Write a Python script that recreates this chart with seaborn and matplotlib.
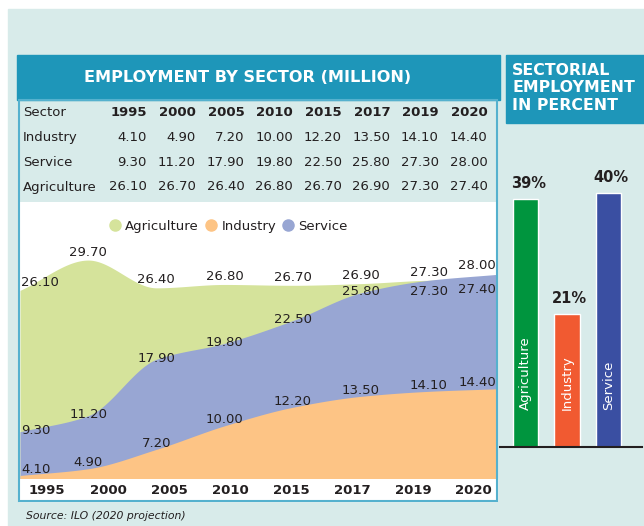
import numpy as np
import pandas as pd
import seaborn as sns
import matplotlib.pyplot as plt
from matplotlib import patches
from matplotlib.lines import Line2D

sns.set_style("white")
plt.rcParams['font.family'] = ['DejaVu Sans']

# Data
years = ['1995', '2000', '2005', '2010', '2015', '2017', '2019', '2020']
industry = [4.10, 4.90, 7.20, 10.00, 12.20, 13.50, 14.10, 14.40]
service = [9.30, 11.20, 17.90, 19.80, 22.50, 25.80, 27.30, 28.00]
agriculture = [26.10, 26.70, 26.40, 26.80, 26.70, 26.90, 27.30, 27.40]
# the area chart in the source shows 29.70 for agriculture in 2000
agriculture_area = [26.10, 29.70, 26.40, 26.80, 26.70, 26.90, 27.30, 27.40]

share_sectors = ['Agriculture', 'Industry', 'Service']
shares = [39, 21, 40]

colors = {'bg': '#D8EBEA', 'head': '#1E96B9', 'border': '#55B1CE', 'text': '#231F20',
          'agri': '#D5E39B', 'ind': '#FDC485', 'serv': '#98A6D3',
          'bar_agri': '#00953E', 'bar_ind': '#F15A31', 'bar_serv': '#3A4FA2'}

W, H = 644, 526


def fx(x):
    return x / W


def fy(y):
    return 1 - y / H


def rect(x0, y0, x1, y1):
    return [x0 / W, 1 - y1 / H, (x1 - x0) / W, (y1 - y0) / H]


def smooth(y, n=500):
    # monotone cubic through the points
    y = np.asarray(y, dtype=float)
    d = np.diff(y)
    m = np.zeros_like(y)
    m[0], m[-1] = d[0], d[-1]
    for k in range(1, len(y) - 1):
        if d[k - 1] * d[k] > 0:
            m[k] = 2 / (1 / d[k - 1] + 1 / d[k])
    xs = np.linspace(0, len(y) - 1, n)
    k = np.minimum(xs.astype(int), len(y) - 2)
    t = xs - k
    h00 = 2 * t**3 - 3 * t**2 + 1
    h10 = t**3 - 2 * t**2 + t
    h01 = -2 * t**3 + 3 * t**2
    h11 = t**3 - t**2
    return xs, h00 * y[k] + h10 * m[k] + h01 * y[k + 1] + h11 * m[k + 1]


fig = plt.figure(figsize=(W / 100, H / 100), dpi=100, facecolor='white')

# Background panels
fig.add_artist(patches.Rectangle((fx(8), 0), 1 - fx(8), fy(9), transform=fig.transFigure,
                                 color=colors['bg'], zorder=-3))
fig.add_artist(patches.Rectangle((fx(17), fy(100)), fx(500) - fx(17), fy(55) - fy(100),
                                 transform=fig.transFigure, color=colors['head'], zorder=-2))
fig.add_artist(patches.Rectangle((fx(19), fy(501)), fx(497) - fx(19), fy(478) - fy(501),
                                 transform=fig.transFigure, color='white', zorder=-2))
fig.add_artist(patches.Rectangle((fx(19), fy(501)), fx(497) - fx(19), fy(100) - fy(501),
                                 transform=fig.transFigure, fill=False, lw=1.5,
                                 edgecolor=colors['border'], zorder=5))
fig.add_artist(patches.Rectangle((fx(506), fy(123)), 1 - fx(506), fy(55) - fy(123),
                                 transform=fig.transFigure, color=colors['head'], zorder=-2))

fig.text(fx(248), fy(78), 'EMPLOYMENT BY SECTOR (MILLION)', color='white', fontsize=11.6,
         fontweight='bold', ha='center', va='center')
fig.text(fx(512), fy(88), 'SECTORIAL\nEMPLOYMENT\nIN PERCENT', color='white', fontsize=11.3,
         fontweight='bold', ha='left', va='center', linespacing=1.2)

# Table
col_x = np.linspace(147, 487.5, len(years))
rows = [('Sector', years, 113), ('Industry', industry, 137),
        ('Service', service, 162), ('Agriculture', agriculture, 187)]
for name, vals, y in rows:
    fig.text(fx(23), fy(y), name, fontsize=9.5, color=colors['text'], va='center')
    for x, v in zip(col_x, vals):
        if name == 'Sector':
            fig.text(fx(x), fy(y), v, fontsize=9.5, fontweight='bold', color=colors['text'],
                     ha='right', va='center')
        else:
            fig.text(fx(x), fy(y), f'{v:.2f}', fontsize=9.5, color=colors['text'],
                     ha='right', va='center')

# Area chart
ax = fig.add_axes(rect(20, 202, 497, 478))
ax.set_facecolor('white')
for vals, c in [(agriculture_area, colors['agri']), (service, colors['serv']), (industry, colors['ind'])]:
    xs, ys = smooth(vals)
    ax.fill_between(xs, 0, ys, color=c, lw=0)
ax.set_xlim(0, len(years) - 1)
ax.set_ylim(3.8, 36.6)
ax.set_yticks([])
ax.set_xticks(np.linspace(0.4, 6.66, len(years)))
ax.set_xticklabels(years, fontsize=9.5, fontweight='bold', color=colors['text'])
ax.tick_params(axis='x', length=0, pad=4)
for s in ax.spines.values():
    s.set_visible(False)


def label(i, v, dy):
    n = len(years) - 1
    ha, dx = 'center', 0
    if i == 0:
        ha, dx = 'left', 1
    elif i == n:
        ha, dx = 'right', -1
    ax.annotate(f'{v:.2f}', (i, v), xytext=(dx, dy), textcoords='offset pixels',
                ha=ha, va='center', fontsize=9.5, color=colors['text'])


for i in range(len(years)):
    a, s = agriculture_area[i], service[i]
    label(i, a, 8 if a >= s else -10)
    if s > a:
        label(i, s, 9)
    elif abs(s - a) < 0.5:
        label(i, s, -11)
    else:
        label(i, s, 1)
    label(i, industry[i], 6)

handles = [Line2D([], [], marker='o', ls='', markersize=8, markerfacecolor=c, markeredgecolor=c)
           for c in [colors['agri'], colors['ind'], colors['serv']]]
ax.legend(handles, ['Agriculture', 'Industry', 'Service'], ncol=3, loc='center',
          bbox_to_anchor=(0.436, 0.913), frameon=False, fontsize=9.5, handlelength=1.0,
          handletextpad=0.3, columnspacing=0.4, labelcolor=colors['text'])

# Share bars
bx = fig.add_axes(rect(500, 150, 642, 447))
bx.set_facecolor('none')
df = pd.DataFrame({'sector': share_sectors, 'share': shares})
sns.barplot(data=df, x='sector', y='share', hue='sector', saturation=1, width=0.61,
            palette=[colors['bar_agri'], colors['bar_ind'], colors['bar_serv']],
            legend=False, ax=bx)
bx.set_ylim(0, (447 - 150) / 6.35)
bx.set_xlim(-0.61, 2.81)
bx.set_xticks([])
bx.set_yticks([])
bx.set_xlabel('')
bx.set_ylabel('')
for s in ['left', 'right', 'top']:
    bx.spines[s].set_visible(False)
bx.spines['bottom'].set_color(colors['text'])
bx.spines['bottom'].set_lw(1.5)
for i, (name, v) in enumerate(zip(share_sectors, shares)):
    bx.annotate(f'{v}%', (i, v), xytext=(3, 8), textcoords='offset pixels', ha='center',
                va='bottom', fontsize=10.5, fontweight='bold', color=colors['text'])
    bx.text(i, 5.8, name, rotation=90, ha='center', va='bottom', fontsize=9.5, color='white')

fig.text(fx(26), fy(516), 'Source: ILO (2020 projection)', fontsize=7.8, style='italic',
         color=colors['text'], va='center')

fig.savefig('out.png', dpi=100)
